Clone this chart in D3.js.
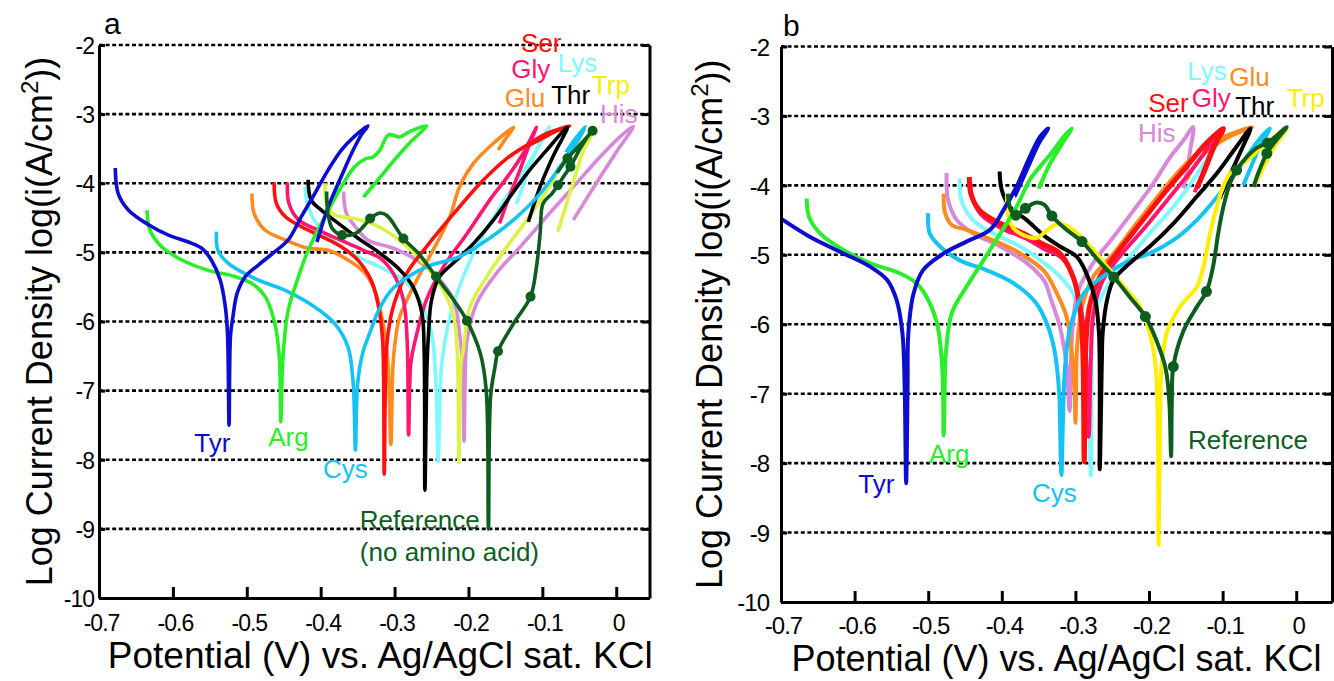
<!DOCTYPE html>
<html lang="en">
<head>
<meta charset="UTF-8">
<script src="https://d3js.org/d3.v7.min.js"></script>
<style>
  body { margin: 0; background: #fff; }
  svg { display: block; font-family: "Liberation Sans", Arial, Helvetica, sans-serif; }
</style>
</head>
<body>
<div class="chart"></div>
<script>
// tick values shared by both panels
const potentialTicks = [-0.7, -0.6, -0.5, -0.4, -0.3, -0.2, -0.1, 0];
const logTicks = [-10, -9, -8, -7, -6, -5, -4, -3, -2];

// ---- panel a : [potential (V), log i] ----
const aTyr = [[-0.678,-3.78],[-0.674,-4.15],[-0.660,-4.39],[-0.633,-4.60],[-0.606,-4.75],[-0.579,-4.85],[-0.561,-4.94],[-0.548,-5.11],[-0.536,-5.40],[-0.529,-5.79],[-0.526,-6.20],[-0.524,-7.50],[-0.522,-6.20],[-0.519,-5.95],[-0.513,-5.59],[-0.502,-5.35],[-0.484,-5.18],[-0.462,-4.99],[-0.444,-4.82],[-0.426,-4.48],[-0.408,-4.15],[-0.390,-3.81],[-0.372,-3.52],[-0.355,-3.33],[-0.336,-3.17],[-0.345,-3.30],[-0.356,-3.52],[-0.372,-3.90],[-0.390,-4.35],[-0.405,-4.85]];
const aArg = [[-0.635,-4.39],[-0.631,-4.68],[-0.615,-4.92],[-0.588,-5.11],[-0.552,-5.26],[-0.516,-5.35],[-0.493,-5.45],[-0.475,-5.64],[-0.462,-6.03],[-0.456,-6.51],[-0.454,-7.45],[-0.451,-6.51],[-0.444,-5.84],[-0.430,-5.35],[-0.417,-4.97],[-0.394,-4.48],[-0.372,-4.05],[-0.354,-3.76],[-0.340,-3.65],[-0.329,-3.62],[-0.320,-3.52],[-0.308,-3.30],[-0.293,-3.33],[-0.279,-3.25],[-0.257,-3.17],[-0.280,-3.42],[-0.300,-3.66],[-0.320,-3.92],[-0.342,-4.20]];
const aCys = [[-0.541,-4.70],[-0.539,-4.97],[-0.525,-5.16],[-0.489,-5.38],[-0.448,-5.55],[-0.408,-5.79],[-0.381,-6.03],[-0.363,-6.37],[-0.356,-6.90],[-0.353,-7.86],[-0.350,-6.90],[-0.343,-6.45],[-0.333,-6.15],[-0.322,-5.85],[-0.302,-5.52],[-0.257,-5.21],[-0.212,-5.06],[-0.175,-4.82],[-0.139,-4.53],[-0.103,-4.15],[-0.076,-3.76],[-0.054,-3.42],[-0.042,-3.18],[-0.055,-3.35],[-0.068,-3.55]];
const aSer = [[-0.463,-3.99],[-0.460,-4.29],[-0.448,-4.48],[-0.426,-4.63],[-0.399,-4.77],[-0.372,-4.92],[-0.349,-5.12],[-0.331,-5.42],[-0.321,-5.82],[-0.316,-6.30],[-0.314,-8.21],[-0.311,-6.40],[-0.306,-5.98],[-0.300,-5.72],[-0.284,-5.31],[-0.257,-4.92],[-0.220,-4.44],[-0.184,-4.00],[-0.148,-3.64],[-0.121,-3.45],[-0.094,-3.28],[-0.063,-3.17],[-0.080,-3.24],[-0.100,-3.35],[-0.118,-3.45]];
const aGlu = [[-0.493,-4.15],[-0.490,-4.44],[-0.475,-4.68],[-0.448,-4.82],[-0.417,-4.94],[-0.390,-4.97],[-0.363,-5.11],[-0.340,-5.30],[-0.327,-5.55],[-0.316,-6.00],[-0.309,-6.60],[-0.305,-7.78],[-0.302,-6.60],[-0.298,-6.20],[-0.293,-5.93],[-0.270,-5.40],[-0.243,-4.87],[-0.225,-4.48],[-0.212,-4.05],[-0.193,-3.71],[-0.166,-3.42],[-0.139,-3.19],[-0.150,-3.36],[-0.160,-3.52]];
const aGly = [[-0.445,-3.99],[-0.443,-4.29],[-0.430,-4.53],[-0.399,-4.70],[-0.363,-4.87],[-0.342,-4.97],[-0.320,-5.08],[-0.302,-5.30],[-0.288,-5.69],[-0.283,-6.27],[-0.281,-7.64],[-0.278,-6.60],[-0.272,-6.27],[-0.257,-5.69],[-0.234,-5.21],[-0.202,-4.73],[-0.171,-4.24],[-0.144,-3.86],[-0.126,-3.57],[-0.108,-3.19],[-0.118,-3.45],[-0.130,-3.80],[-0.145,-4.20],[-0.158,-4.58]];
const aLys = [[-0.421,-4.05],[-0.417,-4.34],[-0.399,-4.68],[-0.372,-4.92],[-0.347,-5.08],[-0.320,-5.21],[-0.288,-5.40],[-0.266,-5.69],[-0.250,-6.17],[-0.244,-6.90],[-0.241,-8.03],[-0.238,-6.90],[-0.236,-6.60],[-0.225,-5.93],[-0.207,-5.35],[-0.184,-4.82],[-0.157,-4.34],[-0.130,-3.90],[-0.108,-3.52],[-0.090,-3.18],[-0.105,-3.45],[-0.120,-3.85],[-0.135,-4.30]];
const aThr = [[-0.417,-3.95],[-0.413,-4.24],[-0.399,-4.39],[-0.376,-4.58],[-0.349,-4.80],[-0.320,-5.01],[-0.293,-5.25],[-0.275,-5.50],[-0.263,-5.88],[-0.260,-6.41],[-0.259,-8.44],[-0.256,-6.60],[-0.254,-6.17],[-0.250,-5.69],[-0.239,-5.35],[-0.216,-5.11],[-0.193,-4.87],[-0.166,-4.53],[-0.144,-4.20],[-0.121,-3.86],[-0.094,-3.52],[-0.066,-3.19],[-0.085,-3.60],[-0.103,-4.05],[-0.119,-4.56]];
const aTrp = [[-0.394,-4.00],[-0.392,-4.29],[-0.381,-4.46],[-0.354,-4.51],[-0.327,-4.60],[-0.288,-4.87],[-0.257,-5.21],[-0.234,-5.55],[-0.220,-5.93],[-0.215,-6.46],[-0.213,-8.04],[-0.210,-6.60],[-0.207,-6.41],[-0.198,-5.79],[-0.175,-5.35],[-0.148,-4.92],[-0.121,-4.53],[-0.094,-4.10],[-0.067,-3.62],[-0.040,-3.33],[-0.029,-3.21],[-0.045,-3.55],[-0.060,-4.05],[-0.079,-4.70]];
const aHis = [[-0.369,-4.12],[-0.365,-4.44],[-0.349,-4.68],[-0.335,-4.83],[-0.302,-4.94],[-0.270,-5.11],[-0.243,-5.35],[-0.220,-5.69],[-0.212,-6.17],[-0.208,-6.60],[-0.206,-7.73],[-0.204,-6.60],[-0.202,-6.27],[-0.189,-5.74],[-0.162,-5.30],[-0.130,-4.92],[-0.094,-4.48],[-0.058,-4.05],[-0.022,-3.62],[0.005,-3.33],[0.023,-3.18],[0.000,-3.55],[-0.030,-4.05],[-0.058,-4.53]];
const aRef = [[-0.392,-4.12],[-0.390,-4.45],[-0.384,-4.66],[-0.371,-4.75],[-0.352,-4.72],[-0.340,-4.60],[-0.333,-4.51],[-0.320,-4.43],[-0.310,-4.47],[-0.288,-4.80],[-0.268,-5.01],[-0.244,-5.35],[-0.220,-5.69],[-0.202,-5.99],[-0.184,-6.46],[-0.176,-6.99],[-0.173,-9.00],[-0.170,-7.08],[-0.164,-6.65],[-0.160,-6.43],[-0.139,-6.03],[-0.116,-5.64],[-0.108,-5.21],[-0.103,-4.73],[-0.099,-4.29],[-0.087,-4.15],[-0.079,-4.03],[-0.070,-3.88],[-0.062,-3.76],[-0.050,-3.52],[-0.037,-3.30],[-0.032,-3.24],[-0.045,-3.40],[-0.066,-3.64],[-0.080,-3.85]];
const aRefMarkers = [[-0.371,-4.75],[-0.333,-4.51],[-0.288,-4.80],[-0.244,-5.35],[-0.202,-5.99],[-0.160,-6.43],[-0.116,-5.64],[-0.079,-4.03],[-0.062,-3.76],[-0.066,-3.64],[-0.032,-3.24]];

// ---- panel b ----
const bTyr = [[-0.700,-4.48],[-0.661,-4.74],[-0.615,-4.98],[-0.579,-5.17],[-0.556,-5.36],[-0.543,-5.65],[-0.535,-6.13],[-0.532,-6.90],[-0.530,-8.29],[-0.528,-6.90],[-0.527,-6.13],[-0.520,-5.56],[-0.507,-5.22],[-0.479,-4.98],[-0.448,-4.81],[-0.416,-4.64],[-0.398,-4.36],[-0.380,-4.02],[-0.362,-3.59],[-0.348,-3.30],[-0.337,-3.18],[-0.350,-3.40],[-0.365,-3.75],[-0.382,-4.15]];
const bArg = [[-0.665,-4.19],[-0.662,-4.45],[-0.647,-4.69],[-0.615,-4.93],[-0.579,-5.12],[-0.538,-5.27],[-0.516,-5.41],[-0.502,-5.61],[-0.488,-5.99],[-0.481,-6.61],[-0.479,-7.60],[-0.477,-6.61],[-0.476,-6.42],[-0.468,-5.84],[-0.448,-5.46],[-0.425,-5.08],[-0.402,-4.69],[-0.380,-4.31],[-0.362,-3.92],[-0.348,-3.73],[-0.330,-3.50],[-0.316,-3.30],[-0.305,-3.18],[-0.318,-3.40],[-0.335,-3.70],[-0.350,-4.05]];
const bCys = [[-0.500,-4.40],[-0.498,-4.69],[-0.484,-4.88],[-0.457,-5.08],[-0.421,-5.22],[-0.384,-5.41],[-0.353,-5.70],[-0.337,-6.04],[-0.328,-6.40],[-0.322,-7.00],[-0.321,-7.40],[-0.319,-8.17],[-0.317,-7.40],[-0.314,-6.61],[-0.307,-6.04],[-0.289,-5.56],[-0.257,-5.27],[-0.226,-5.08],[-0.199,-4.98],[-0.167,-4.79],[-0.135,-4.50],[-0.104,-4.12],[-0.076,-3.73],[-0.054,-3.39],[-0.036,-3.18],[-0.050,-3.45],[-0.062,-3.75],[-0.072,-4.00]];
const bSer = [[-0.444,-3.88],[-0.442,-4.12],[-0.430,-4.36],[-0.402,-4.55],[-0.371,-4.69],[-0.345,-4.84],[-0.321,-4.98],[-0.303,-5.32],[-0.294,-5.75],[-0.290,-6.37],[-0.288,-7.98],[-0.286,-6.37],[-0.281,-5.75],[-0.267,-5.32],[-0.244,-4.98],[-0.212,-4.55],[-0.180,-4.12],[-0.149,-3.73],[-0.122,-3.39],[-0.099,-3.18],[-0.112,-3.45],[-0.125,-3.80],[-0.135,-4.04]];
const bGly = [[-0.443,-3.95],[-0.440,-4.18],[-0.428,-4.42],[-0.400,-4.62],[-0.368,-4.76],[-0.340,-4.93],[-0.318,-5.05],[-0.302,-5.35],[-0.292,-5.80],[-0.286,-6.40],[-0.282,-7.62],[-0.279,-6.50],[-0.275,-5.80],[-0.262,-5.35],[-0.238,-5.00],[-0.205,-4.60],[-0.172,-4.17],[-0.142,-3.78],[-0.118,-3.43],[-0.101,-3.18],[-0.115,-3.50],[-0.128,-3.85],[-0.138,-4.10]];
const bLys = [[-0.457,-3.90],[-0.455,-4.21],[-0.439,-4.50],[-0.412,-4.69],[-0.375,-4.88],[-0.345,-5.10],[-0.325,-5.27],[-0.303,-5.56],[-0.291,-6.04],[-0.283,-6.80],[-0.279,-8.18],[-0.278,-6.80],[-0.276,-5.89],[-0.257,-5.46],[-0.230,-5.08],[-0.199,-4.69],[-0.167,-4.31],[-0.140,-3.92],[-0.117,-3.54],[-0.101,-3.23],[-0.108,-3.40],[-0.118,-3.65]];
const bGlu = [[-0.479,-4.12],[-0.477,-4.40],[-0.468,-4.57],[-0.448,-4.64],[-0.412,-4.79],[-0.375,-4.98],[-0.342,-5.24],[-0.325,-5.56],[-0.312,-5.89],[-0.305,-6.40],[-0.301,-7.00],[-0.300,-7.42],[-0.299,-7.00],[-0.298,-6.37],[-0.291,-5.75],[-0.276,-5.32],[-0.248,-4.98],[-0.217,-4.55],[-0.185,-4.12],[-0.158,-3.78],[-0.135,-3.54],[-0.108,-3.35],[-0.081,-3.23],[-0.060,-3.16],[-0.095,-3.32],[-0.125,-3.55],[-0.140,-3.75],[-0.149,-3.92]];
const bThr = [[-0.403,-3.80],[-0.400,-4.07],[-0.389,-4.31],[-0.366,-4.50],[-0.343,-4.72],[-0.321,-4.88],[-0.298,-5.03],[-0.285,-5.27],[-0.273,-5.65],[-0.268,-6.13],[-0.267,-8.09],[-0.264,-6.50],[-0.263,-6.13],[-0.257,-5.65],[-0.248,-5.36],[-0.226,-5.12],[-0.199,-4.88],[-0.167,-4.55],[-0.135,-4.16],[-0.108,-3.83],[-0.081,-3.44],[-0.062,-3.18],[-0.075,-3.50],[-0.090,-3.85],[-0.104,-4.19]];
const bTrp = [[-0.393,-4.12],[-0.391,-4.45],[-0.384,-4.62],[-0.370,-4.72],[-0.353,-4.76],[-0.340,-4.66],[-0.328,-4.57],[-0.318,-4.56],[-0.303,-4.64],[-0.280,-4.88],[-0.257,-5.17],[-0.230,-5.51],[-0.212,-5.75],[-0.199,-6.13],[-0.191,-6.61],[-0.188,-7.50],[-0.187,-9.18],[-0.185,-7.50],[-0.183,-6.61],[-0.176,-6.13],[-0.158,-5.75],[-0.135,-5.46],[-0.126,-5.17],[-0.117,-4.69],[-0.108,-4.31],[-0.101,-4.07],[-0.090,-3.83],[-0.067,-3.64],[-0.040,-3.39],[-0.013,-3.18],[-0.030,-3.45],[-0.045,-3.75],[-0.058,-4.02]];
const bHis = [[-0.475,-3.82],[-0.473,-4.21],[-0.461,-4.50],[-0.439,-4.69],[-0.402,-4.88],[-0.366,-5.12],[-0.342,-5.38],[-0.333,-5.65],[-0.321,-6.04],[-0.312,-6.60],[-0.308,-7.25],[-0.306,-6.50],[-0.303,-5.95],[-0.296,-5.51],[-0.276,-5.12],[-0.248,-4.74],[-0.221,-4.36],[-0.194,-3.97],[-0.171,-3.59],[-0.153,-3.35],[-0.140,-3.16],[-0.144,-3.49],[-0.149,-3.83],[-0.153,-4.04]];
const bRef = [[-0.392,-4.12],[-0.388,-4.35],[-0.381,-4.43],[-0.368,-4.33],[-0.354,-4.25],[-0.342,-4.28],[-0.332,-4.44],[-0.312,-4.64],[-0.291,-4.81],[-0.269,-5.08],[-0.248,-5.32],[-0.226,-5.61],[-0.205,-5.89],[-0.190,-6.23],[-0.178,-6.61],[-0.174,-6.90],[-0.172,-7.20],[-0.170,-7.90],[-0.169,-7.10],[-0.167,-6.61],[-0.153,-6.09],[-0.135,-5.75],[-0.122,-5.53],[-0.113,-5.17],[-0.106,-4.69],[-0.099,-4.31],[-0.090,-3.97],[-0.081,-3.78],[-0.068,-3.60],[-0.052,-3.45],[-0.039,-3.39],[-0.013,-3.16],[-0.028,-3.36],[-0.040,-3.54],[-0.050,-3.78],[-0.058,-4.02]];
const bRefMarkers = [[-0.381,-4.43],[-0.368,-4.33],[-0.332,-4.44],[-0.291,-4.81],[-0.248,-5.32],[-0.205,-5.89],[-0.167,-6.61],[-0.122,-5.53],[-0.081,-3.78],[-0.039,-3.39],[-0.040,-3.54]];

// colours per amino acid
const colors = {
  Tyr: "#0d0dcf", Arg: "#2bee2b", Cys: "#14c3f5", Ser: "#ff1010", Gly: "#ff1670",
  Lys: "#80f8ff", Glu: "#ff8a20", Thr: "#000000", Trp: "#ffee00", His: "#d888d8", Ref: "#0d5e1e"
};

const width = 1334, height = 681;
const svg = d3.select(".chart").append("svg")
  .attr("width", width)
  .attr("height", height);

function drawPanel(p) {
  const x = d3.scaleLinear().domain(p.xDomain).range(p.xRange);
  const y = d3.scaleLinear().domain([-10, -2]).range(p.yRange);
  const g = svg.append("g");

  // dotted grid lines (top one doubles as frame)
  g.selectAll(".grid")
    .data(logTicks.filter(d => d > -10))
    .join("line")
    .attr("x1", p.xRange[0]).attr("x2", p.xRange[1])
    .attr("y1", d => y(d)).attr("y2", d => y(d))
    .attr("stroke", "#000").attr("stroke-width", 2.6)
    .attr("stroke-dasharray", "4,2.6");

  // curves
  const line = d3.line()
    .x(d => x(d[0])).y(d => y(d[1]))
    .curve(d3.curveCatmullRom.alpha(0.5));
  p.curves.forEach(c => {
    g.append("path")
      .attr("d", line(c.data))
      .attr("fill", "none")
      .attr("stroke", c.color)
      .attr("stroke-width", c.width || p.lineWidth)
      .attr("stroke-linejoin", "round");
  });
  g.selectAll(".mk")
    .data(p.markers)
    .join("circle")
    .attr("cx", d => x(d[0])).attr("cy", d => y(d[1]))
    .attr("r", p.markerR).attr("fill", colors.Ref);

  // axes
  const bottom = g.append("g")
    .attr("transform", "translate(0," + p.yRange[0] + ")")
    .call(d3.axisBottom(x).tickValues(potentialTicks).tickSizeInner(-11).tickSizeOuter(0)
      .tickFormat(d => String(d)));
  bottom.selectAll("text").attr("y", p.xLabelY).attr("dy", "0.71em").attr("dx", 2)
    .style("font-size", p.tickFont + "px").style("letter-spacing", "-1px").attr("fill", "#000");

  const left = g.append("g")
    .attr("transform", "translate(" + p.xRange[0] + ",0)")
    .call(d3.axisLeft(y).tickValues(logTicks).tickSizeInner(-6).tickSizeOuter(0)
      .tickFormat(d => String(d)));
  left.selectAll("text").attr("x", -p.yLabelGap).attr("dy", "0.36em")
    .style("font-size", p.tickFont + "px").style("letter-spacing", "-1px").attr("fill", "#000");

  g.append("g")
    .attr("transform", "translate(" + p.xRange[1] + ",0)")
    .call(d3.axisRight(y).tickValues(logTicks).tickSizeInner(-8).tickSizeOuter(0).tickFormat(""));

  g.selectAll(".domain").attr("stroke-width", 3);
  g.selectAll(".tick line").attr("stroke-width", 3);

  // series labels
  p.labels.forEach(l => {
    g.append("text")
      .attr("x", x(l.at[0])).attr("y", y(l.at[1]))
      .attr("fill", l.color || colors[l.name])
      .style("font-size", "26px")
      .text(l.text || l.name);
  });

  // panel letter
  g.append("text").attr("x", p.letterPos[0]).attr("y", p.letterPos[1])
    .style("font-size", "30px").text(p.letter);

  // axis titles
  g.append("text")
    .attr("x", (p.xRange[0] + p.xRange[1]) / 2 + p.titleShift).attr("y", p.xTitleY)
    .attr("text-anchor", "middle").style("font-size", p.titleFont + "px")
    .text("Potential (V) vs. Ag/AgCl sat. KCl");
  const yt = g.append("text")
    .attr("transform", "translate(" + p.yTitleX + "," + (p.yRange[0] + p.yRange[1]) / 2 + ") rotate(-90)")
    .attr("text-anchor", "middle").style("font-size", "36px");
  yt.append("tspan").text("Log Current Density log(i(A/cm");
  yt.append("tspan").attr("dy", -14).style("font-size", "24px").text("2");
  yt.append("tspan").attr("dy", 14).text("))");
}

drawPanel({
  letter: "a", letterPos: [104, 34],
  xDomain: [-0.7, 0.045], xRange: [99, 649.5], yRange: [598, 45],
  tickFont: 23, xLabelY: 17, yLabelGap: 5, lineWidth: 3.6, markerR: 5,
  xTitleY: 668, titleShift: 6, titleFont: 37, yTitleX: 52,
  curves: [
    { data: aLys, color: colors.Lys }, { data: aHis, color: colors.His },
    { data: aTrp, color: "#dcf244" }, { data: aGlu, color: colors.Glu },
    { data: aGly, color: colors.Gly }, { data: aSer, color: colors.Ser },
    { data: aThr, color: colors.Thr }, { data: aCys, color: colors.Cys },
    { data: aArg, color: colors.Arg }, { data: aTyr, color: colors.Tyr },
    { data: aRef, color: colors.Ref }
  ],
  markers: aRefMarkers,
  labels: [
    { name: "Ser", at: [-0.129, -2.10] }, { name: "Gly", at: [-0.142, -2.48] },
    { name: "Lys", at: [-0.079, -2.39] }, { name: "Glu", at: [-0.151, -2.90] },
    { name: "Thr", at: [-0.088, -2.85] }, { name: "Trp", at: [-0.033, -2.71], color: "#f4ef00" },
    { name: "His", at: [-0.022, -3.13] }, { name: "Tyr", at: [-0.571, -7.89] },
    { name: "Arg", at: [-0.471, -7.80] }, { name: "Cys", at: [-0.397, -8.27] },
    { name: "Ref", text: "Reference", at: [-0.347, -9.00] },
    { name: "Ref", text: "(no amino acid)", at: [-0.347, -9.47] }
  ]
});

drawPanel({
  letter: "b", letterPos: [783, 36],
  xDomain: [-0.7, 0.0486], xRange: [781, 1332], yRange: [602, 46.5],
  tickFont: 24, xLabelY: 15, yLabelGap: 12, lineWidth: 4, markerR: 5.5,
  xTitleY: 671, titleShift: 0, titleFont: 36, yTitleX: 722,
  curves: [
    { data: bLys, color: colors.Lys }, { data: bHis, color: colors.His },
    { data: bGlu, color: colors.Glu }, { data: bGly, color: colors.Gly },
    { data: bSer, color: colors.Ser, width: 5 }, { data: bCys, color: colors.Cys },
    { data: bThr, color: colors.Thr }, { data: bTrp, color: colors.Trp },
    { data: bArg, color: colors.Arg }, { data: bTyr, color: colors.Tyr },
    { data: bRef, color: colors.Ref }
  ],
  markers: bRefMarkers,
  labels: [
    { name: "Lys", at: [-0.148, -2.48] }, { name: "Glu", at: [-0.091, -2.57] },
    { name: "Ser", at: [-0.201, -2.94] }, { name: "Gly", at: [-0.142, -2.87] },
    { name: "Thr", at: [-0.083, -2.99] }, { name: "Trp", at: [-0.013, -2.87] },
    { name: "His", at: [-0.215, -3.38] }, { name: "Tyr", at: [-0.595, -8.43] },
    { name: "Arg", at: [-0.499, -8.00] }, { name: "Cys", at: [-0.359, -8.56] },
    { name: "Ref", text: "Reference", at: [-0.147, -7.80] }
  ]
});
</script>
</body>
</html>
